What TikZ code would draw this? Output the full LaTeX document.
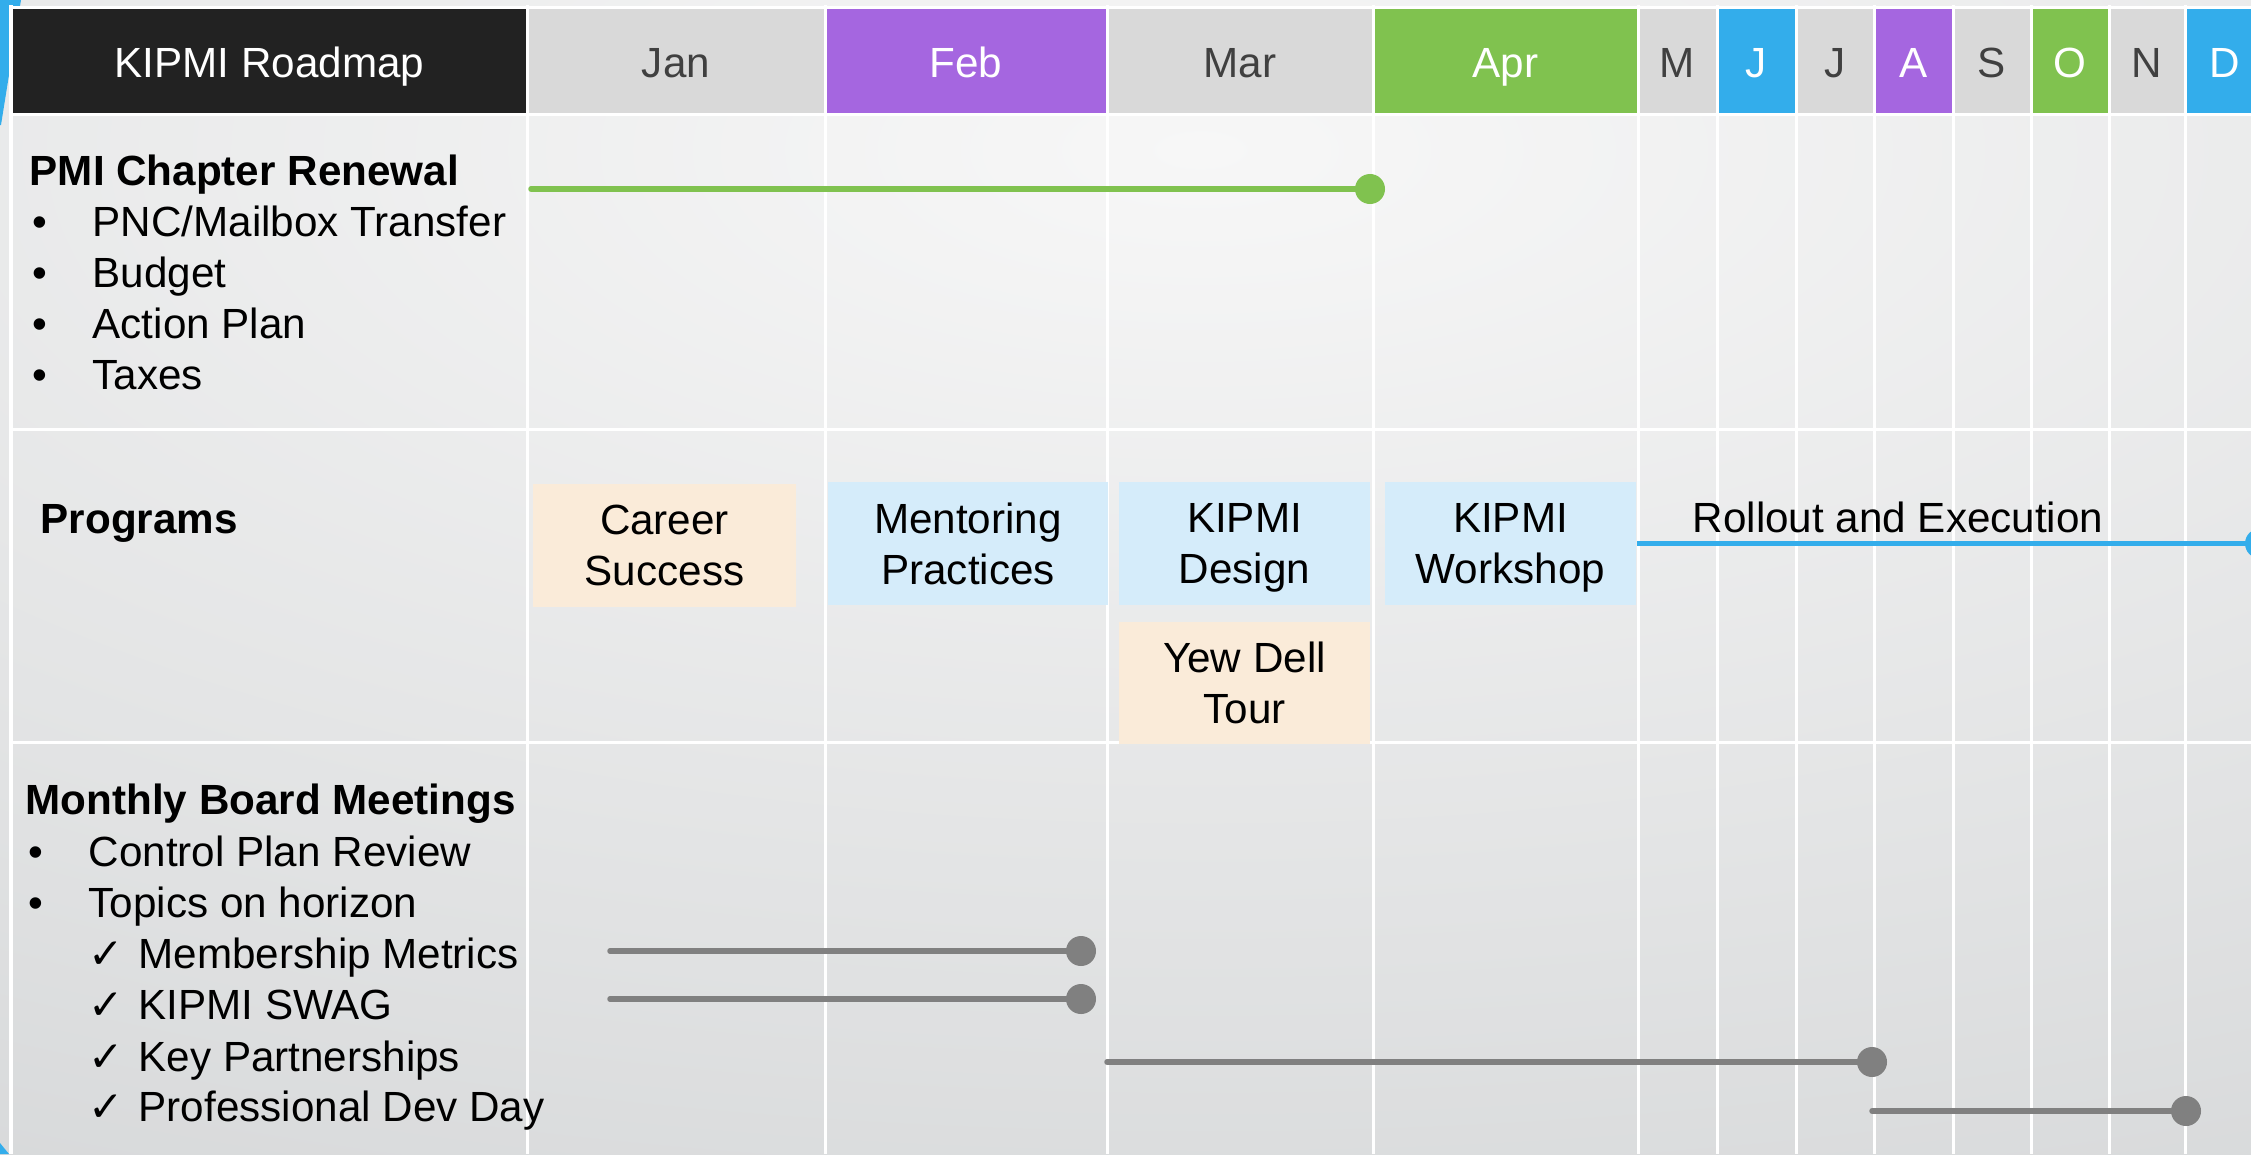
\documentclass[tikz,border=0pt]{standalone}
\usepackage{fontspec}
\setmainfont{Liberation Sans}
\newfontfamily\checkfont{DejaVu Sans}
\usepackage{tikz}
\definecolor{kgreen}{HTML}{80C24F}
\definecolor{kblue}{HTML}{33ADEB}
\definecolor{kpurple}{HTML}{A566E0}
\definecolor{kgray}{HTML}{D9D9D9}
\definecolor{kblack}{HTML}{222222}
\definecolor{ktext}{HTML}{404040}
\definecolor{kpeach}{HTML}{FAEBD9}
\definecolor{kice}{HTML}{D5ECFA}
\definecolor{kline}{HTML}{808080}
\definecolor{bginner}{HTML}{F7F7F7}
\definecolor{bgouter}{HTML}{C0C3C5}
\newcommand{\rmsize}{\fontsize{12}{14.5}\selectfont}
\newcommand{\itm}{\makebox[0.6cm][l]{\textbullet}}
\newcommand{\chk}{\makebox[0.5cm][l]{\checkfont ✓}}

\begin{document}
\begin{tikzpicture}[x=0.01cm,y=-0.01cm]
\tikzstyle{hdr}=[inner sep=0pt, minimum height=1.07cm, text height=0.43cm, text depth=0.1cm, font=\rmsize]
\tikzstyle{task}=[inner sep=0pt, minimum height=1.23cm, align=center, text depth=0pt, font=\rmsize]
\tikzstyle{txt}=[anchor=base west, inner sep=0pt, font=\rmsize]
\tikzstyle{knob}=[circle, inner sep=0pt, minimum size=0.3cm]
\tikzstyle{track}=[line width=0.055cm, line cap=round]

\useasboundingbox (0,0) rectangle (2251,1154);

% background
\begin{scope}
\clip (0,0) rectangle (2251,1154);
\shade[inner color=bginner, outer color=bgouter] (-3600,-1850) rectangle (6000,2150);
\end{scope}
\fill[kblue] (0,0) -- (21,0) -- (1,125) -- (0,125) -- cycle;
\fill[kblue] (0,1143) -- (9,1154) -- (0,1154) -- cycle;

% header row
\node at (269.5,60.5) [hdr, minimum width=5.15cm, fill=kblack, text=white] (title) {KIPMI Roadmap};
\node at (676,60.5) [hdr, minimum width=2.98cm, fill=kgray, text=ktext] (jan) {Jan};
\node at (966,60.5) [hdr, minimum width=2.82cm, fill=kpurple, text=white] (feb) {Feb};
\node at (1240,60.5) [hdr, minimum width=2.66cm, fill=kgray, text=ktext] (mar) {Mar};
\node at (1505.5,60.5) [hdr, minimum width=2.65cm, fill=kgreen, text=white] (apr) {Apr};
\node at (1677.5,60.5) [hdr, minimum width=0.79cm, fill=kgray, text=ktext] (may) {M};
\node at (1756.5,60.5) [hdr, minimum width=0.79cm, fill=kblue, text=white] (jun) {J};
\node at (1835,60.5) [hdr, minimum width=0.78cm, fill=kgray, text=ktext] (jul) {J};
\node at (1913.5,60.5) [hdr, minimum width=0.79cm, fill=kpurple, text=white] (aug) {A};
\node at (1992,60.5) [hdr, minimum width=0.78cm, fill=kgray, text=ktext] (sep) {S};
\node at (2070,60.5) [hdr, minimum width=0.78cm, fill=kgreen, text=white] (oct) {O};
\node at (2147,60.5) [hdr, minimum width=0.76cm, fill=kgray, text=ktext] (nov) {N};
\node at (2224.5,60.5) [hdr, minimum width=0.79cm, fill=kblue, text=white] (dec) {D};

% white grid
\draw[white, line width=0.03cm] (10,7) -- (2251,7) (10,114) -- (2251,114) (10,429) -- (2251,429) (10,742) -- (2251,742);
\draw[white, line width=0.03cm] (11,5) -- (11,1154) (527,5) -- (527,1154) (825,5) -- (825,1154) (1107,5) -- (1107,1154) (1373,5) -- (1373,1154);
\draw[white, line width=0.03cm] (1638,5) -- (1638,1154) (1717,5) -- (1717,1154) (1796,5) -- (1796,1154) (1874,5) -- (1874,1154) (1953,5) -- (1953,1154) (2031,5) -- (2031,1154) (2109,5) -- (2109,1154) (2185,5) -- (2185,1154);

% chapter renewal
\node at (29,185) [txt, font=\rmsize\bfseries] (renewhead) {PMI Chapter Renewal};
\node at (32,236) [txt] (renew1) {\itm PNC/Mailbox Transfer};
\node at (32,287) [txt] (renew2) {\itm Budget};
\node at (32,338) [txt] (renew3) {\itm Action Plan};
\node at (32,389) [txt] (renew4) {\itm Taxes};

\coordinate (renewstart) at (531,189);
\node at (1370,189) [knob, fill=kgreen] (renewend) {};
\draw[track, kgreen] (renewstart) -- (renewend.center);

% programs
\node at (40,533) [txt, font=\rmsize\bfseries] (proghead) {Programs};

\node at (664.5,545.5) [task, fill=kpeach, minimum width=2.63cm] (career) {Career\\Success};
\node at (968,543.5) [task, fill=kice, minimum width=2.80cm] (mentor) {Mentoring\\Practices};
\node at (1244.5,543.5) [task, fill=kice, minimum width=2.51cm] (design) {KIPMI\\Design};
\node at (1510.5,543.5) [task, fill=kice, minimum width=2.51cm] (workshop) {KIPMI\\Workshop};
\node at (1244.5,683) [task, fill=kpeach, minimum width=2.51cm, minimum height=1.22cm] (yewdell) {Yew Dell\\Tour};

\node at (1898,532) [txt, anchor=base] (rollout) {Rollout and Execution};
\node at (2260,543.5) [knob, fill=kblue] (rolloutend) {};
\draw[track, kblue, line cap=butt] (workshop.east) -- (rolloutend.center);

% board meetings
\node at (25,814) [txt, font=\rmsize\bfseries] (boardhead) {Monthly Board Meetings};
\node at (28,866) [txt] (board1) {\itm Control Plan Review};
\node at (28,917) [txt] (board2) {\itm Topics on horizon};
\node at (88,968) [txt] (topic1) {\chk Membership Metrics};
\node at (88,1019) [txt] (topic2) {\chk KIPMI SWAG};
\node at (88,1071) [txt] (topic3) {\chk Key Partnerships};
\node at (88,1121) [txt] (topic4) {\chk Professional Dev Day};

\coordinate (metricsstart) at (610,951);
\node at (1081,951) [knob, fill=kline] (metricsend) {};
\draw[track, kline] (metricsstart) -- (metricsend.center);

\coordinate (swagstart) at (610,999);
\node at (1081,999) [knob, fill=kline] (swagend) {};
\draw[track, kline] (swagstart) -- (swagend.center);

\coordinate (partnerstart) at (1107,1062);
\node at (1872,1062) [knob, fill=kline] (partnerend) {};
\draw[track, kline] (partnerstart) -- (partnerend.center);

\coordinate (devstart) at (1872,1111);
\node at (2186,1111) [knob, fill=kline] (devend) {};
\draw[track, kline] (devstart) -- (devend.center);

\end{tikzpicture}
\end{document}
